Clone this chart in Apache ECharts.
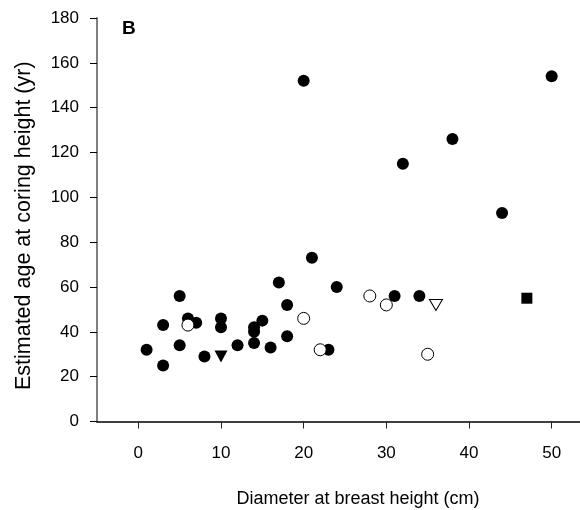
<!DOCTYPE html>
<html>
<head>
<meta charset="utf-8">
<script src="https://cdn.jsdelivr.net/npm/echarts@6/dist/echarts.min.js"></script>
<style>html,body{margin:0;padding:0;background:#fff}#c{width:580px;height:510px}</style>
</head>
<body>
<div id="c"></div>
<script>
// Data: [diameter at breast height (cm), estimated age (yr)]
const filledCircles = [
  [20,152],[50,154],[38,126],[32,115],[44,93],[21,73],[17,62],[5,56],[18,52],
  [6,46],[7,44],[3,43],[10,46],[10,42],[15,45],[14,42],[14,40],[14,35],[18,38],
  [1,32],[5,34],[12,34],[16,33],[8,29],[3,25],[23,32],[24,60],[31,56],[34,56]
];
const openCircles = [[20,46],[6,43],[22,32],[28,56],[30,52],[35,30]];
const filledTriangles = [[10,29]];
const openTriangles = [[36,52]];
const filledSquares = [[47,55]];
const xTicks = [0,10,20,30,40,50];
const yTicks = [0,20,40,60,80,100,120,140,160,180];
const xTitle = 'Diameter at breast height (cm)';
const yTitle = 'Estimated age at coring height (yr)';
const panelLabel = 'B';

const FONT = 'Liberation Sans, Arial, sans-serif';
const chart = echarts.init(document.getElementById('c'), null, {renderer: 'canvas'});
chart.setOption({
  animation: false,
  backgroundColor: '#ffffff',
  grid: {left: 97, top: 18, right: -13, bottom: 88.5, containLabel: false, outerBoundsMode: 'none'},
  xAxis: {
    type: 'value', min: -5, max: 55,
    splitLine: {show: false},
    axisLine: {onZero: false, lineStyle: {color: '#000', width: 1.5}},
    axisTick: {show: true, length: 7, customValues: xTicks, lineStyle: {color: '#222', width: 1}},
    axisLabel: {customValues: xTicks, margin: 23, color: '#000', fontSize: 17, fontFamily: FONT},
    name: xTitle, nameLocation: 'middle', nameGap: 69,
    nameTextStyle: {color: '#000', fontSize: 18, fontFamily: FONT, padding: [0, 0, 0, 26]}
  },
  yAxis: {
    type: 'value', min: 0, max: 180, interval: 20,
    splitLine: {show: false},
    axisLine: {onZero: false, lineStyle: {color: '#808080', width: 2}},
    axisTick: {show: true, length: 7, lineStyle: {color: '#000', width: 1}},
    axisLabel: {margin: 18, color: '#000', fontSize: 17, fontFamily: FONT},
    name: yTitle, nameLocation: 'middle', nameGap: 62,
    nameTextStyle: {color: '#000', fontSize: 21.5, fontFamily: FONT, padding: [0, 12, 0, 0]}
  },
  graphic: [{
    type: 'text', left: 122, top: 19,
    style: {text: panelLabel, font: 'bold 19px ' + FONT, fill: '#000'}
  }],
  series: [
    {type: 'scatter', data: filledCircles, symbol: 'circle', symbolSize: 12,
     itemStyle: {color: '#000', opacity: 1}, z: 2},
    {type: 'scatter', data: openCircles, symbol: 'circle', symbolSize: 12,
     itemStyle: {color: '#fff', borderColor: '#000', borderWidth: 1, opacity: 1}, z: 3},
    {type: 'scatter', data: filledTriangles, symbol: 'triangle', symbolRotate: 180, symbolSize: [13, 12],
     itemStyle: {color: '#000', opacity: 1}, z: 3},
    {type: 'scatter', data: openTriangles, symbol: 'triangle', symbolRotate: 180, symbolSize: [13, 11],
     itemStyle: {color: '#fff', borderColor: '#000', borderWidth: 1, opacity: 1}, z: 3},
    {type: 'scatter', data: filledSquares, symbol: 'rect', symbolSize: 11,
     itemStyle: {color: '#000', opacity: 1}, z: 3}
  ]
});
</script>
</body>
</html>
